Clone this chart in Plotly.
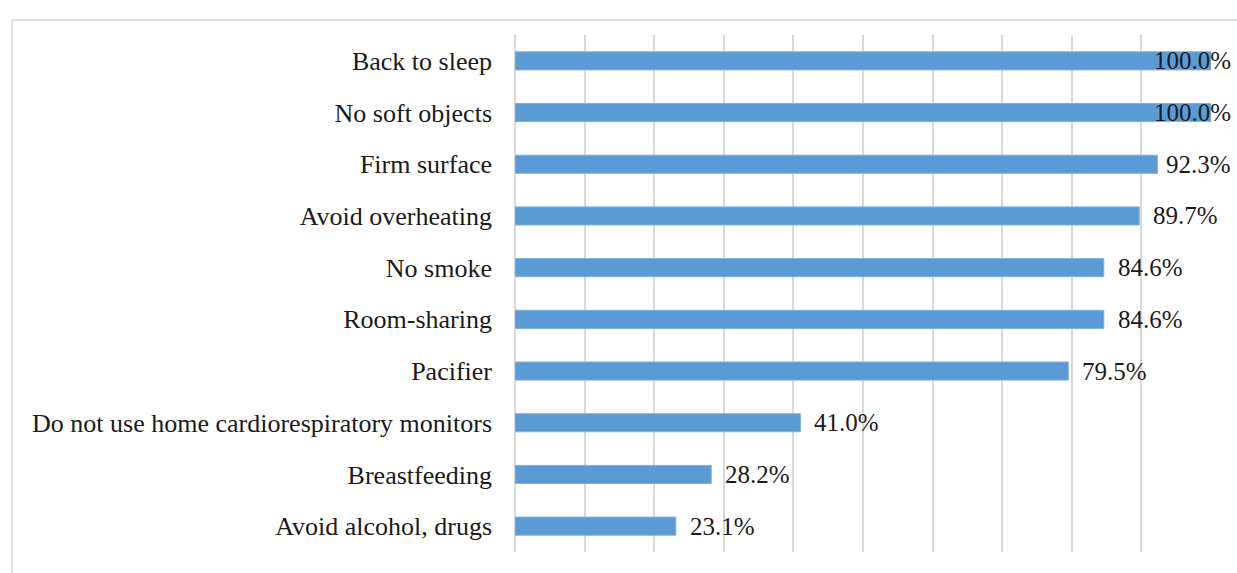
import plotly.graph_objects as go

categories = ["Back to sleep", "No soft objects", "Firm surface", "Avoid overheating",
              "No smoke", "Room-sharing", "Pacifier",
              "Do not use home cardiorespiratory monitors", "Breastfeeding",
              "Avoid alcohol, drugs"]
values = [100.0, 100.0, 92.3, 89.7, 84.6, 84.6, 79.5, 41.0, 28.2, 23.1]

W, H = 1237, 573
L, R, T, B = 515, 26, 35, 21
pw = W - L - R
ph = H - T - B

FONT = "Liberation Serif"
FS = 25

fig = go.Figure()
fig.add_trace(go.Bar(
    x=values, y=categories, orientation="h",
    marker=dict(color="#5B9BD5", line=dict(color="#7FB0DE", width=1)),
    width=0.35, hoverinfo="skip",
))

annotations = []
for c, v in zip(categories, values):
    end_px = L + v / 100 * pw
    if end_px + 10 + 78 > W:
        annotations.append(dict(x=(1233 - L) / pw, xref="paper", y=c, yref="y",
                                text=f"{v:.1f}%", showarrow=False, xanchor="right",
                                font=dict(family=FONT, size=FS, color="#1a1a1a")))
    else:
        annotations.append(dict(x=v, xref="x", y=c, yref="y", text=f"{v:.1f}%",
                                showarrow=False, xanchor="left", xshift=12,
                                font=dict(family=FONT, size=FS, color="#1a1a1a")))

ytop = (ph + T - 20) / ph
xleft = (12 - L) / pw
shapes = [
    dict(type="line", xref="paper", yref="paper",
         x0=xleft, x1=xleft, y0=ytop, y1=-0.2,
         line=dict(color="#D9D9D9", width=1.5)),
    dict(type="line", xref="paper", yref="paper",
         x0=xleft, x1=1.2, y0=ytop, y1=ytop,
         line=dict(color="#D9D9D9", width=1.5)),
]

fig.update_layout(
    width=W, height=H,
    margin=dict(l=L, r=R, t=T, b=B, pad=0),
    paper_bgcolor="white", plot_bgcolor="white",
    showlegend=False,
    annotations=annotations,
    shapes=shapes,
    xaxis=dict(range=[0, 100], dtick=10, showgrid=True, gridcolor="#D9D9D9",
               gridwidth=1.5, showticklabels=False, zeroline=True,
               zerolinecolor="#D9D9D9", zerolinewidth=1.5, fixedrange=True),
    yaxis=dict(autorange="reversed", showgrid=False, ticks="",
               ticklabelstandoff=22,
               tickfont=dict(family=FONT, size=26, color="#1a1a1a"),
               showline=False, fixedrange=True),
)

fig.write_html("out.html")
